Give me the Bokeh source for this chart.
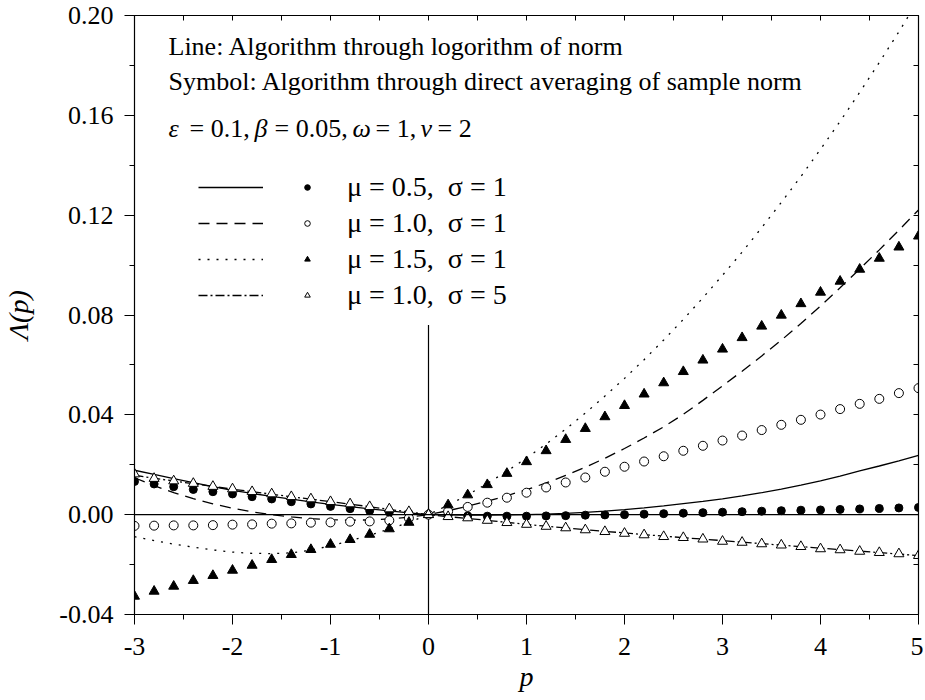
from bokeh.plotting import figure
from bokeh.models import (Range1d, FixedTicker, LinearAxis, Label, Legend,
                          LegendItem, Span, ColumnDataSource)
from bokeh.embed import file_html
from bokeh.resources import INLINE

# ---------------- data ----------------
P = [-3.0, -2.8, -2.6, -2.4, -2.2, -2.0, -1.8, -1.6, -1.4, -1.2, -1.0, -0.8, -0.6, -0.4, -0.2,
     0.0, 0.2, 0.4, 0.6, 0.8, 1.0, 1.2, 1.4, 1.6, 1.8, 2.0, 2.2, 2.4, 2.6, 2.8, 3.0,
     3.2, 3.4, 3.6, 3.8, 4.0, 4.2, 4.4, 4.6, 4.8, 5.0]

# mu=0.5, sigma=1
A_LINE = [0.0178, 0.0161, 0.0144, 0.0128, 0.0112, 0.0097, 0.0085, 0.0073, 0.0062, 0.0051,
          0.0041, 0.0032, 0.0023, 0.0015, 0.0007, 0.0,
          -0.0001, -0.0002, -0.0002, -0.0001, 0.0000, 0.0002, 0.0005, 0.0009, 0.0014, 0.0020,
          0.0027, 0.0035, 0.0044, 0.0053, 0.0063, 0.0075, 0.0088, 0.0102, 0.0118, 0.0135,
          0.0154, 0.0175, 0.0195, 0.0216, 0.0238]
A_SYM = [0.0133, 0.0123, 0.0112, 0.0101, 0.0092, 0.0083, 0.0072, 0.0063, 0.0052, 0.0043,
         0.0033, 0.0024, 0.0016, 0.0010, 0.0005, 0.0,
         -0.0003, -0.0005, -0.0006, -0.0006, -0.0006, -0.0005, -0.0004, -0.0002, -0.0001, 0.0000,
         0.0002, 0.0004, 0.0006, 0.0008, 0.0010, 0.0012, 0.0014, 0.0016, 0.0018, 0.0019,
         0.0021, 0.0023, 0.0025, 0.0027, 0.0029]

# mu=1.0, sigma=1
B_LINE = [0.0148, 0.0116, 0.0088, 0.0064, 0.0043, 0.0026, 0.0011, 0.0000, -0.0009, -0.0016,
          -0.0020, -0.0022, -0.0021, -0.0017, -0.0010, 0.0,
          0.0016, 0.0034, 0.0054, 0.0076, 0.0100, 0.0127, 0.0157, 0.0190, 0.0226, 0.0265,
          0.0307, 0.0352, 0.0402, 0.0458, 0.0516, 0.0575, 0.0636, 0.0699, 0.0766, 0.0836,
          0.0909, 0.0984, 0.1061, 0.1140, 0.1221]
B_SYM = [-0.0045, -0.0044, -0.0043, -0.0043, -0.0042, -0.0040, -0.0039, -0.0036, -0.0035, -0.0032,
         -0.0031, -0.0028, -0.0027, -0.0023, -0.0014, 0.0,
         0.0013, 0.0031, 0.0048, 0.0068, 0.0088, 0.0109, 0.0129, 0.0149, 0.0172, 0.0192,
         0.0213, 0.0234, 0.0256, 0.0276, 0.0297, 0.0317, 0.0339, 0.0360, 0.0380, 0.0401,
         0.0423, 0.0444, 0.0464, 0.0487, 0.0507]

# mu=1.5, sigma=1
C_LINE = [-0.0088, -0.0104, -0.0118, -0.0130, -0.0141, -0.0150, -0.0155, -0.0156, -0.0153, -0.0142,
          -0.0125, -0.0105, -0.0082, -0.0058, -0.0031, 0.0,
          0.0038, 0.0079, 0.0125, 0.0174, 0.0227, 0.0283, 0.0343, 0.0407, 0.0475, 0.0546,
          0.0621, 0.0700, 0.0782, 0.0869, 0.0959, 0.1052, 0.1150, 0.1251, 0.1355, 0.1464,
          0.1576, 0.1692, 0.1812, 0.1935, 0.2063]
C_SYM = [-0.0327, -0.0307, -0.0287, -0.0264, -0.0244, -0.0223, -0.0203, -0.0180, -0.0160, -0.0140,
         -0.0119, -0.0100, -0.0079, -0.0057, -0.0031, 0.0,
         0.0039, 0.0079, 0.0120, 0.0165, 0.0212, 0.0256, 0.0301, 0.0345, 0.0392, 0.0437,
         0.0483, 0.0528, 0.0573, 0.0619, 0.0663, 0.0709, 0.0755, 0.0799, 0.0845, 0.0891,
         0.0935, 0.0983, 0.1027, 0.1072, 0.1116]

# mu=1.0, sigma=5
D_LINE = [0.0158, 0.0146, 0.0135, 0.0124, 0.0113, 0.0102, 0.0092, 0.0082, 0.0072, 0.0062,
          0.0052, 0.0042, 0.0032, 0.0021, 0.0011, 0.0,
          -0.0008, -0.0015, -0.0023, -0.0031, -0.0039, -0.0046, -0.0053, -0.0060, -0.0067, -0.0073,
          -0.0080, -0.0086, -0.0092, -0.0098, -0.0104, -0.0110, -0.0116, -0.0122, -0.0128, -0.0134,
          -0.0140, -0.0146, -0.0152, -0.0158, -0.0164]
D_SYM = [0.0163, 0.0145, 0.0135, 0.0125, 0.0113, 0.0103, 0.0092, 0.0083, 0.0072, 0.0063,
         0.0052, 0.0043, 0.0032, 0.0023, 0.0012, 0.0,
         -0.0008, -0.0013, -0.0023, -0.0032, -0.0039, -0.0047, -0.0053, -0.0061, -0.0068, -0.0075,
         -0.0081, -0.0088, -0.0092, -0.0098, -0.0107, -0.0111, -0.0117, -0.0122, -0.0128, -0.0137,
         -0.0141, -0.0147, -0.0152, -0.0157, -0.0164]

SERIES_LABELS = ["\u03bc = 0.5,  \u03c3 = 1", "\u03bc = 1.0,  \u03c3 = 1",
                 "\u03bc = 1.5,  \u03c3 = 1", "\u03bc = 1.0,  \u03c3 = 5"]

X_TICKS = [-3, -2, -1, 0, 1, 2, 3, 4, 5]
X_TICK_LABELS = ["-3", "-2", "-1", "0", "1", "2", "3", "4", "5"]
X_MINOR = [-2.5, -1.5, -0.5, 0.5, 1.5, 2.5, 3.5, 4.5]
Y_TICKS = [-0.04, 0.0, 0.04, 0.08, 0.12, 0.16, 0.20]
Y_TICK_LABELS = ["-0.04", "0.00", "0.04", "0.08", "0.12", "0.16", "0.20"]
Y_MINOR = [-0.02, 0.02, 0.06, 0.10, 0.14, 0.18]

X_LABEL = "p"
Y_LABEL = "\u039b(p)"

ZERO_Y = 0.0
VLINE_X = 0.0
VLINE_TOP = 0.076

# ---------------- figure ----------------
FONT = "Liberation Serif"
W, H = 923, 700
p = figure(width=W, height=H, x_range=Range1d(-3, 5), y_range=Range1d(-0.04, 0.20),
           output_backend="svg", toolbar_location=None,
           min_border_left=132, min_border_right=5, min_border_top=15, min_border_bottom=86)
p.background_fill_color = "white"
p.border_fill_color = "white"
p.outline_line_color = "black"
p.grid.visible = False

xt = FixedTicker(ticks=X_TICKS, minor_ticks=X_MINOR)
yt = FixedTicker(ticks=Y_TICKS, minor_ticks=Y_MINOR)

xa = p.xaxis[0]
xa.ticker = xt
xa.major_label_overrides = {float(t): s for t, s in zip(X_TICKS, X_TICK_LABELS)}
xa.axis_label = X_LABEL
ya = p.yaxis[0]
ya.ticker = yt
ya.major_label_overrides = {t: s for t, s in zip(Y_TICKS, Y_TICK_LABELS)}
ya.axis_label = Y_LABEL

for ax in (xa, ya):
    ax.axis_line_color = "black"
    ax.axis_line_width = 1.2
    ax.major_tick_line_color = "black"
    ax.minor_tick_line_color = "black"
    ax.major_tick_in = 0
    ax.major_tick_out = 10
    ax.minor_tick_in = 0
    ax.minor_tick_out = 5
    ax.major_label_text_font = FONT
    ax.major_label_text_font_size = "26px"
    ax.major_label_text_color = "black"
    ax.axis_label_text_font = FONT
    ax.axis_label_text_font_size = "28px"
    ax.axis_label_text_font_style = "italic"
    ax.axis_label_text_color = "black"
xa.major_label_standoff = 13
xa.axis_label_standoff = 3
ya.major_label_standoff = 11
ya.axis_label_standoff = 22

top = LinearAxis(ticker=FixedTicker(ticks=X_TICKS, minor_ticks=X_MINOR))
right = LinearAxis(ticker=FixedTicker(ticks=Y_TICKS, minor_ticks=Y_MINOR))
for ax in (top, right):
    ax.axis_line_color = "black"
    ax.axis_line_width = 1.2
    ax.major_tick_in = 5
    ax.major_tick_out = 0
    ax.minor_tick_in = 5
    ax.minor_tick_out = 0
    ax.major_label_text_font_size = "1px"
    ax.major_label_text_color = None
    ax.major_label_standoff = 0
p.add_layout(top, "above")
p.add_layout(right, "right")

# reference lines
p.add_layout(Span(location=ZERO_Y, dimension="width", line_color="black", line_width=1.2))
p.segment(x0=[VLINE_X], y0=[-0.04], x1=[VLINE_X], y1=[VLINE_TOP], line_color="black", line_width=1.2)

src = ColumnDataSource(dict(p=P, a_l=A_LINE, a_s=A_SYM, b_l=B_LINE, b_s=B_SYM,
                            c_l=C_LINE, c_s=C_SYM, d_l=D_LINE, d_s=D_SYM))

LW = 1.3
la = p.line("p", "a_l", source=src, line_color="black", line_width=LW)
lb = p.line("p", "b_l", source=src, line_color="black", line_width=LW, line_dash="11 7")
lc = p.line("p", "c_l", source=src, line_color="black", line_width=LW, line_dash="2 7")
ld = p.line("p", "d_l", source=src, line_color="black", line_width=LW, line_dash="9 3 2 3")

sa = p.scatter("p", "a_s", source=src, marker="circle", size=8,
               fill_color="black", line_color="black")
sb = p.scatter("p", "b_s", source=src, marker="circle", size=9,
               fill_color="white", line_color="black", line_width=1)
sc = p.scatter("p", "c_s", source=src, marker="triangle", size=10,
               fill_color="black", line_color="black")
sd = p.scatter("p", "d_s", source=src, marker="triangle", size=10,
               fill_color="white", line_color="black", line_width=1)

# legend: line samples, then symbols with labels
leg_lines = Legend(items=[LegendItem(label=" ", renderers=[r]) for r in (la, lb, lc, ld)],
                   location=(64, 301), orientation="vertical",
                   glyph_width=65, glyph_height=36, label_height=36, spacing=0,
                   padding=0, margin=0, label_standoff=0,
                   background_fill_alpha=0, border_line_color=None,
                   label_text_font_size="26px", label_text_font=FONT)
leg_syms = Legend(items=[LegendItem(label=lab, renderers=[r])
                         for lab, r in zip(SERIES_LABELS, (sa, sb, sc, sd))],
                  location=(166, 301), orientation="vertical",
                  glyph_width=14, glyph_height=36, label_height=36, spacing=0,
                  padding=0, margin=0, label_standoff=33,
                  background_fill_alpha=0, border_line_color=None,
                  label_text_font_size="28px", label_text_font=FONT,
                  label_text_color="black")
p.add_layout(leg_lines)
p.add_layout(leg_syms)

# texts
TXT = dict(x_units="screen", y_units="screen", text_font=FONT, text_font_size="26px",
           text_color="black", text_baseline="middle")
p.add_layout(Label(x=34, y=568, text="Line: Algorithm through logorithm of norm", **TXT))
p.add_layout(Label(x=34, y=533, text="Symbol: Algorithm through direct averaging of sample norm", **TXT))

PARAM_PARTS = [("\u03b5", 34, "italic"), ("= 0.1,", 55, "normal"),
               ("\u03b2", 120, "italic"), ("= 0.05,", 140, "normal"),
               ("\u03c9", 218, "italic"), ("= 1,", 241, "normal"),
               ("\u03bd", 286, "italic"), ("= 2", 303, "normal")]
for txt, sx, style in PARAM_PARTS:
    p.add_layout(Label(x=sx, y=486, text=txt, text_font_style=style, **TXT))

open("out.html", "w").write(file_html(p, INLINE))
